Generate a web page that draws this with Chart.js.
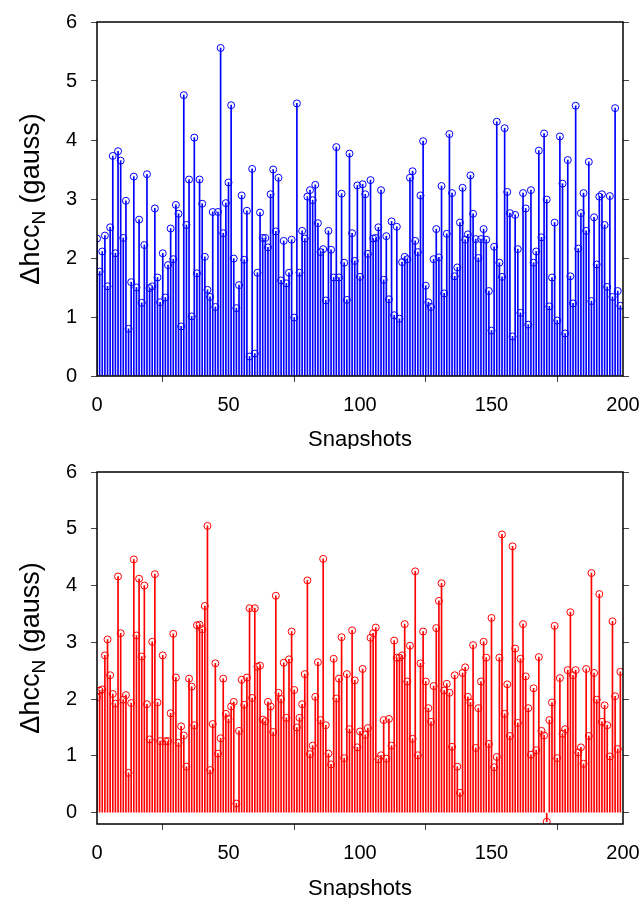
<!DOCTYPE html>
<html>
<head>
<meta charset="utf-8">
<script src="https://cdn.jsdelivr.net/npm/chart.js@4"></script>
<style>
  body { margin: 0; background: #fff; }
  .panel { position: absolute; left: 0; width: 643px; height: 449px; }
</style>
</head>
<body>
<div class="panel" style="top:0"><canvas id="top"></canvas></div>
<div class="panel" style="top:449px"><canvas id="bottom"></canvas></div>
<script>
// snapshot index 0..199
const snapshots = Array.from({ length: 200 }, (_, i) => i);

const hccTop = [
  2.33, 1.77, 2.11, 2.38, 1.52, 2.52, 3.73, 2.08, 3.81, 3.65,
  2.34, 2.97, 0.80, 1.59, 3.38, 1.50, 2.65, 1.24, 2.22, 3.42,
  1.49, 1.52, 2.84, 1.67, 1.25, 2.08, 1.33, 1.88, 2.50, 1.98,
  2.90, 2.75, 0.84, 4.76, 2.56, 3.33, 1.01, 4.04, 1.74, 3.33,
  2.92, 2.02, 1.46, 1.34, 2.78, 1.17, 2.78, 5.56, 2.42, 2.93,
  3.28, 4.59, 1.99, 1.15, 1.54, 3.06, 1.97, 2.80, 0.33, 3.51,
  0.38, 1.75, 2.77, 2.34, 2.34, 2.18, 3.08, 3.50, 2.45, 3.36,
  1.62, 2.29, 1.57, 1.75, 2.31, 0.99, 4.62, 1.75, 2.46, 2.33,
  3.04, 3.15, 2.98, 3.24, 2.59, 2.10, 2.15, 1.28, 2.46, 2.14,
  1.67, 3.88, 1.67, 3.09, 1.92, 1.29, 3.77, 2.42, 1.95, 3.23,
  1.68, 3.25, 3.08, 2.07, 3.32, 2.33, 2.34, 2.52, 3.15, 1.63,
  2.37, 1.30, 2.62, 1.03, 2.53, 0.97, 1.93, 2.02, 1.98, 3.36,
  3.47, 2.29, 2.10, 3.06, 3.98, 1.53, 1.25, 1.17, 1.98, 2.49,
  2.01, 3.22, 1.40, 2.41, 4.10, 3.10, 1.69, 1.84, 2.60, 3.19,
  2.31, 2.40, 3.40, 2.75, 2.32, 2.00, 2.32, 2.49, 2.31, 1.44,
  0.77, 2.19, 4.31, 1.92, 1.68, 4.20, 3.12, 2.76, 0.67, 2.73,
  2.15, 1.07, 3.10, 2.84, 0.87, 3.15, 1.92, 2.11, 3.82, 2.35,
  4.11, 2.99, 1.18, 1.67, 2.60, 0.94, 4.06, 3.26, 0.72, 3.66,
  1.69, 1.23, 4.58, 2.16, 2.76, 3.10, 2.46, 3.63, 1.27, 2.69,
  1.89, 3.04, 3.08, 2.56, 1.51, 3.05, 1.34, 4.54, 1.44, 1.19
];

const hccBottom = [
  2.03, 2.15, 2.17, 2.77, 3.05, 2.42, 2.09, 1.92, 4.16, 3.16,
  1.99, 2.07, 0.70, 1.93, 4.46, 3.12, 4.12, 2.75, 4.00, 1.91,
  1.29, 3.01, 4.20, 1.94, 1.26, 2.77, 1.26, 1.26, 1.75, 3.15,
  2.38, 1.23, 1.52, 1.36, 0.81, 2.36, 2.22, 1.54, 3.30, 3.31,
  3.23, 3.64, 5.05, 0.75, 1.56, 2.63, 1.04, 1.31, 2.36, 1.74,
  1.65, 1.87, 1.95, 0.16, 1.44, 2.34, 1.90, 2.38, 3.60, 2.02,
  3.60, 2.57, 2.59, 1.64, 1.61, 1.95, 1.87, 1.42, 3.82, 2.11,
  2.00, 2.64, 1.67, 2.70, 3.19, 2.16, 1.50, 1.67, 1.91, 2.44,
  4.09, 1.03, 1.18, 2.04, 2.65, 1.63, 4.47, 1.54, 1.04, 0.85,
  2.71, 2.01, 2.36, 3.09, 0.96, 2.44, 1.47, 3.21, 2.33, 1.15,
  1.43, 2.53, 1.37, 1.49, 3.08, 3.16, 3.26, 0.94, 1.01, 1.63,
  0.95, 1.65, 1.18, 3.03, 2.73, 2.73, 2.77, 3.32, 2.31, 2.94,
  1.30, 4.25, 1.01, 2.63, 3.19, 2.31, 1.84, 1.60, 2.23, 3.25,
  3.73, 4.04, 2.15, 2.27, 2.11, 1.16, 2.42, 0.81, 0.35, 2.46,
  2.56, 2.04, 1.94, 2.95, 1.14, 1.84, 2.31, 3.01, 2.73, 1.21,
  3.43, 0.80, 0.98, 2.73, 4.90, 1.74, 2.26, 1.35, 4.69, 2.89,
  1.58, 2.71, 3.32, 2.40, 1.84, 1.02, 2.19, 1.10, 2.74, 1.44,
  1.36, -0.16, 1.63, 1.94, 3.29, 0.96, 2.37, 1.39, 1.47, 2.51,
  3.53, 2.42, 2.51, 1.06, 1.15, 0.86, 2.53, 1.35, 4.22, 2.46,
  1.99, 3.85, 1.60, 1.89, 1.54, 0.99, 3.37, 2.05, 1.12, 2.48
];

const xTicks = [0, 50, 100, 150, 200];
const yTicks = [0, 1, 2, 3, 4, 5, 6];

const FONT = '"Liberation Sans", Arial, sans-serif';

const frame = {
    id: 'frame',
    afterDraw(chart) {
        const { ctx, chartArea: a } = chart;
        ctx.save();
        ctx.strokeStyle = '#000';
        ctx.lineWidth = 1.5;
        ctx.strokeRect(a.left, a.top, a.right - a.left, a.bottom - a.top);

        // y title with subscript N
        const main = '27px ' + FONT;
        const sub = '19px ' + FONT;
        ctx.translate(39, (a.top + a.bottom) / 2);
        ctx.rotate(-Math.PI / 2);
        ctx.fillStyle = '#000';
        ctx.textBaseline = 'alphabetic';
        ctx.font = main;
        const w1 = ctx.measureText('\u0394hcc').width;
        const w3 = ctx.measureText(' (gauss)').width;
        ctx.font = sub;
        const w2 = ctx.measureText('N').width;
        let x = -(w1 + w2 + w3) / 2;
        ctx.font = main;
        ctx.fillText('\u0394hcc', x, 0);
        x += w1;
        ctx.font = sub;
        ctx.fillText('N', x, 6);
        x += w2;
        ctx.font = main;
        ctx.fillText(' (gauss)', x, 0);
        ctx.restore();
    }
};

function makeChart(id, values, color, yMin, padTop, xHeight) {
    const pts = snapshots.map((s, i) => ({ x: s, y: values[i] }));
    const fixTicks = list => scale => { scale.ticks = list.map(v => ({ value: v })); };
    new Chart(document.getElementById(id), {
        type: 'bar',
        data: {
            datasets: [{
                type: 'bar',
                data: pts,
                backgroundColor: color,
                borderWidth: 0,
                barThickness: 1
            }, {
                type: 'scatter',
                data: pts,
                showLine: false,
                pointStyle: 'circle',
                pointRadius: 3.5,
                pointBorderWidth: 1,
                pointBackgroundColor: 'rgba(0,0,0,0)',
                pointBorderColor: color
            }]
        },
        options: {
            responsive: true,
            maintainAspectRatio: false,
            animation: false,
            layout: { padding: { top: padTop, right: 13, left: 0, bottom: 0 } },
            plugins: { legend: { display: false }, tooltip: { enabled: false } },
            scales: {
                x: {
                    type: 'linear',
                    min: 0,
                    max: 200,
                    offset: false,
                    afterBuildTicks: fixTicks(xTicks),
                    afterFit: s => { s.height = xHeight; s.paddingLeft = 0; s.paddingRight = 0; },
                    grid: { drawOnChartArea: false, tickLength: 6, color: '#444' },
                    border: { display: false },
                    ticks: { padding: 11, color: '#000', font: { family: FONT, size: 20 }, maxRotation: 0 },
                    title: { display: true, text: 'Snapshots', color: '#000', padding: 0,
                             font: { family: FONT, size: 22, lineHeight: 0.8 } }
                },
                y: {
                    min: yMin,
                    max: 6,
                    afterBuildTicks: fixTicks(yTicks),
                    afterFit: s => { s.width = 97; s.paddingTop = 0; s.paddingBottom = 0; },
                    grid: { drawOnChartArea: false, tickLength: 6, color: '#444' },
                    border: { display: false },
                    ticks: { padding: 14, color: '#000', font: { family: FONT, size: 20 } }
                },
                y2: {
                    position: 'right',
                    min: yMin,
                    max: 6,
                    afterBuildTicks: fixTicks(yTicks),
                    afterFit: s => { s.width = 7; s.paddingTop = 0; s.paddingBottom = 0; },
                    grid: { drawOnChartArea: false, tickLength: 6, color: '#444' },
                    border: { display: false },
                    ticks: { display: false }
                }
            }
        },
        plugins: [frame]
    });
}

makeChart('top', hccTop, '#0000ff', 0, 22, 73);
makeChart('bottom', hccBottom, '#ff0000', -0.2, 23, 74);
</script>
</body>
</html>
